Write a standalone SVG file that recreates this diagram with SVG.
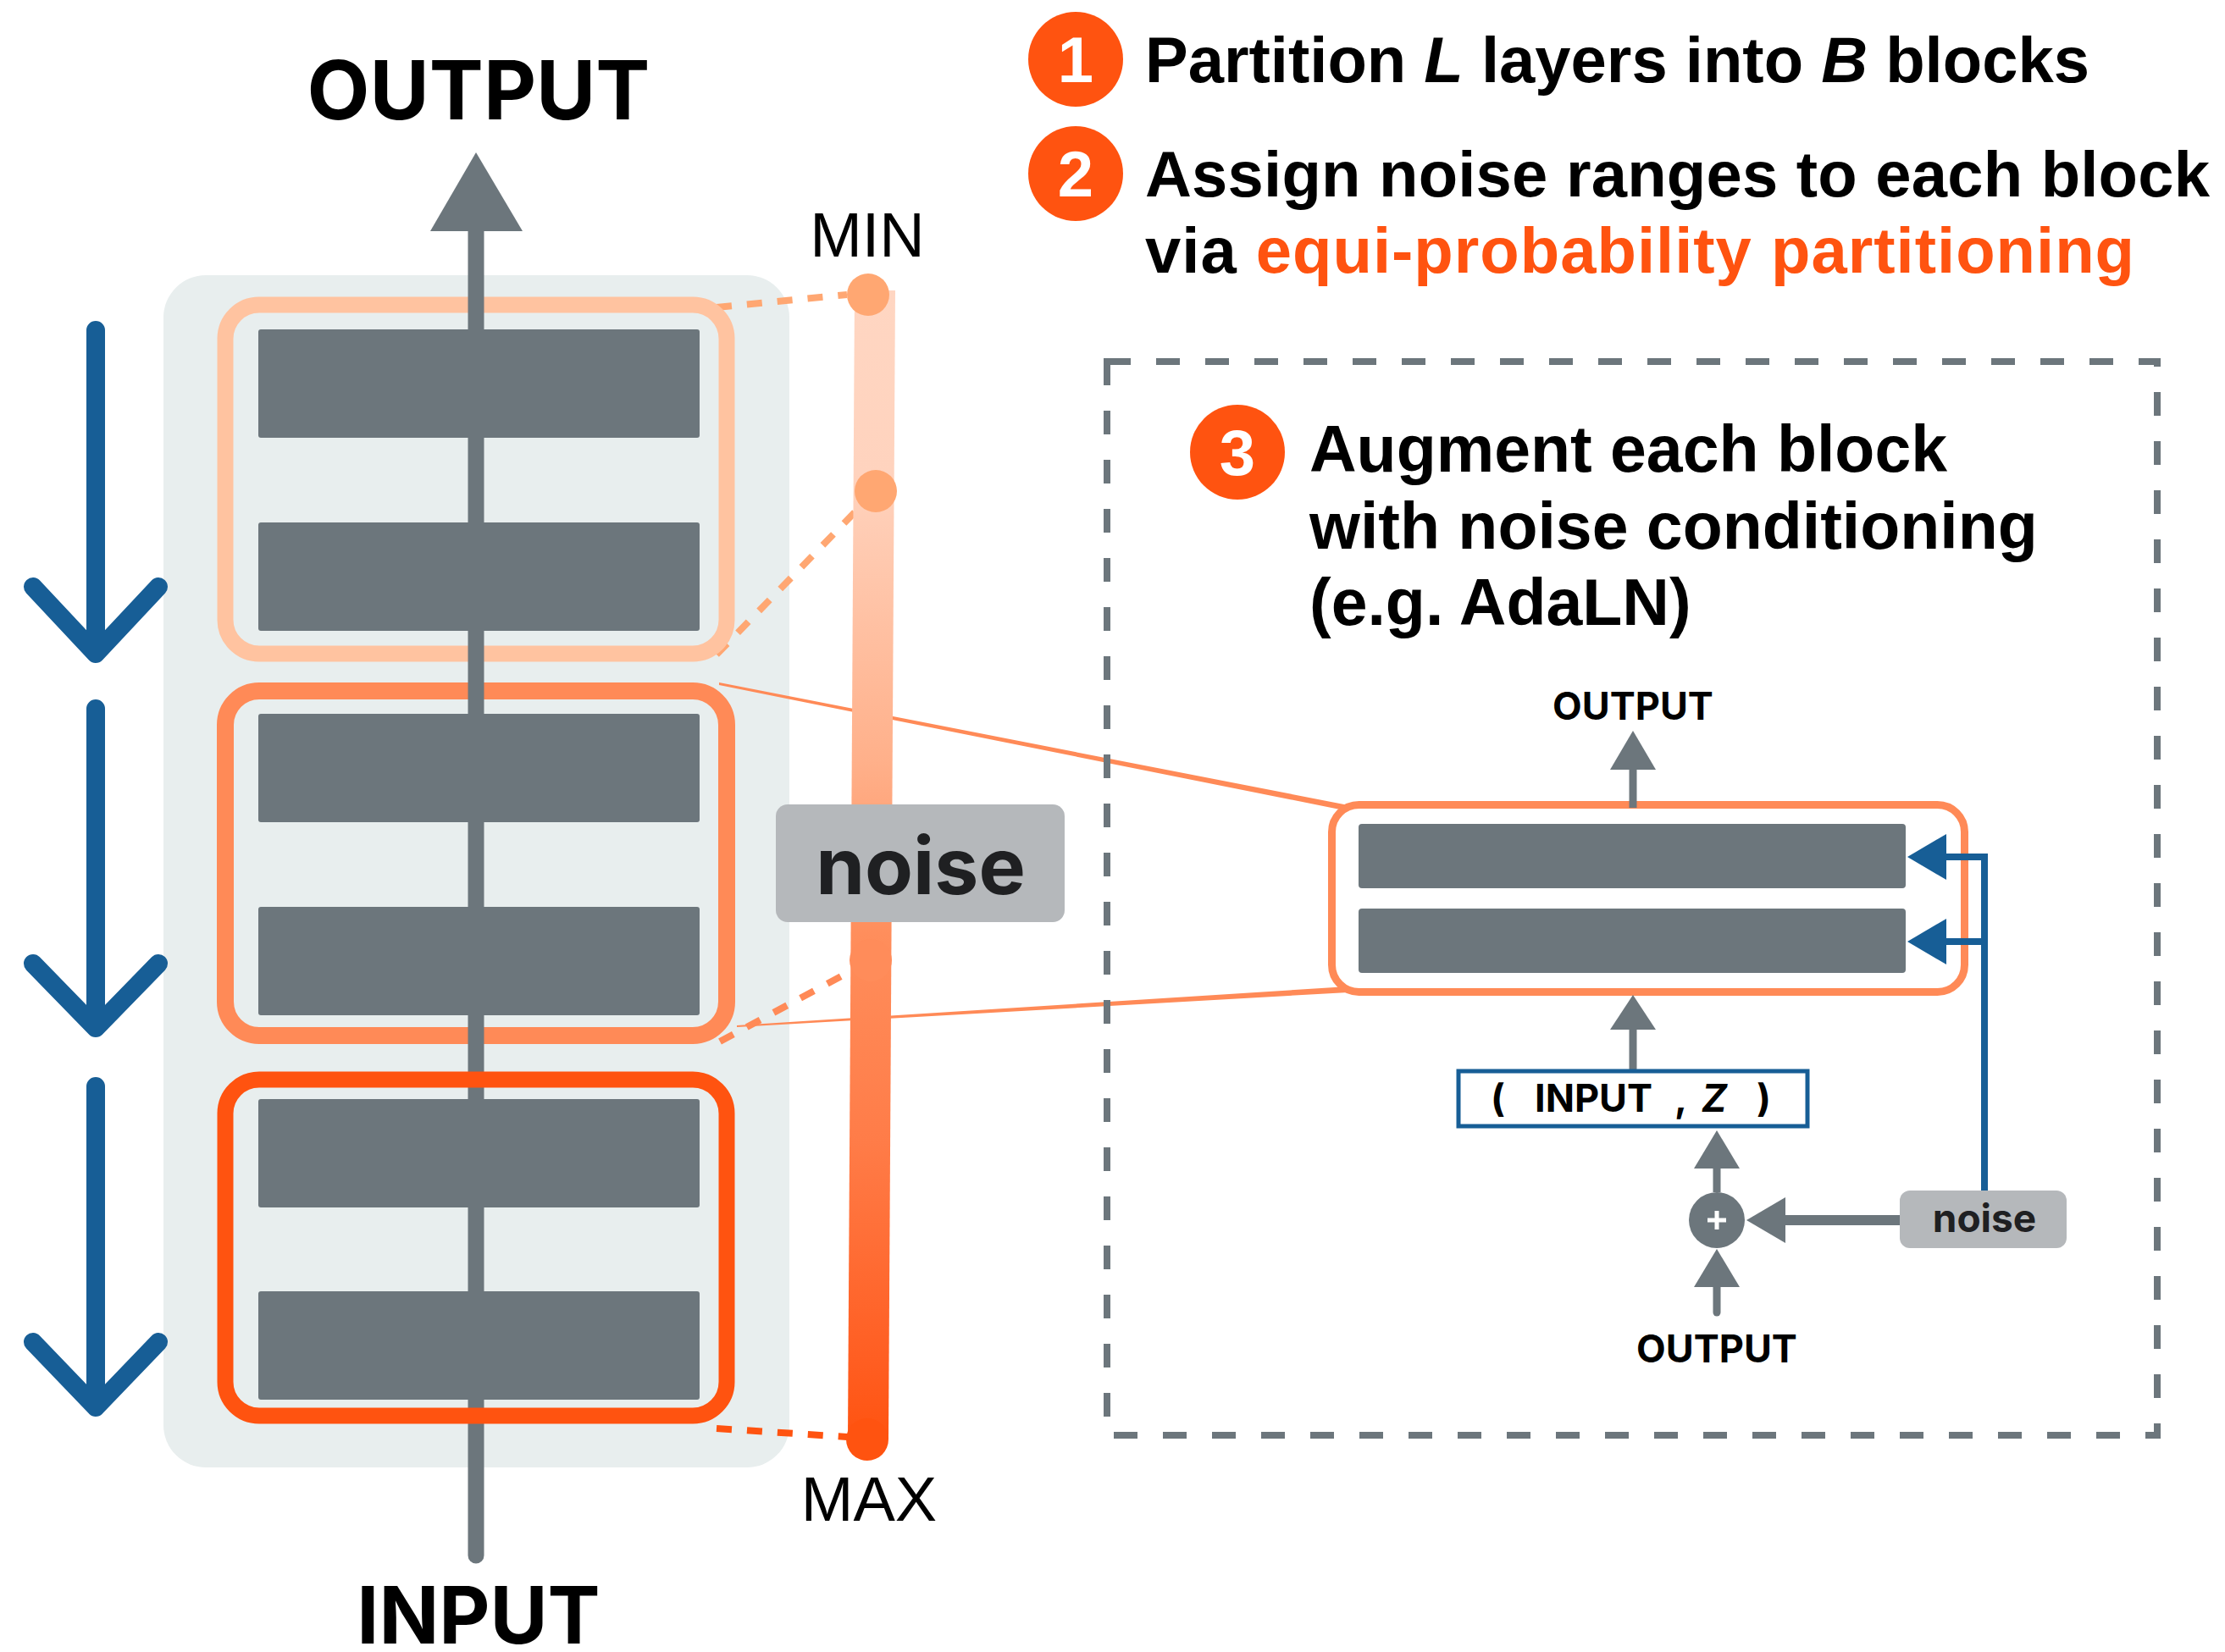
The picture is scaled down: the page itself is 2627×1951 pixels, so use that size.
<svg xmlns="http://www.w3.org/2000/svg" width="2627" height="1951" viewBox="0 0 2627 1951">
<defs>
<linearGradient id="barGrad" gradientUnits="userSpaceOnUse" x1="0" y1="343" x2="0" y2="1700">
<stop offset="0" stop-color="#FFD6C2"/>
<stop offset="0.16" stop-color="#FFD3BE"/>
<stop offset="0.41" stop-color="#FFB08A"/>
<stop offset="0.56" stop-color="#FF8E5C"/>
<stop offset="0.74" stop-color="#FF7C48"/>
<stop offset="0.93" stop-color="#FF5E22"/>
<stop offset="1" stop-color="#FF5310"/>
</linearGradient>
</defs>
<style>
.layer{fill:#6C767C}
.lab{font-family:Inter,"Liberation Sans",sans-serif;font-weight:700;fill:#000}
.cap{font-family:"Liberation Sans",Arial,sans-serif;font-weight:700;font-size:76px;fill:#000}
.cap3{font-family:"Liberation Sans",Arial,sans-serif;font-weight:700;font-size:77px;fill:#000}
.reg{font-family:"Liberation Sans",Arial,sans-serif;font-size:74px;fill:#000}
.num{font-family:"Liberation Sans",Arial,sans-serif;font-weight:700;font-size:76px;fill:#fff}
.blue{stroke:#175E96;stroke-width:22;stroke-linecap:round;stroke-linejoin:round;fill:none}
.dash{stroke-width:8;stroke-dasharray:18 18;fill:none}
.gl{stroke:#6C767C;stroke-width:9;fill:none}
.ga{fill:#6C767C}
.bl{stroke:#175E96;stroke-width:8;fill:none}
.ba{fill:#175E96}
</style>
<rect width="2627" height="1951" fill="#fff"/>

<g id="stack-bg"><rect x="193" y="325" width="739" height="1408" rx="50" fill="#E8EEEE"/></g>

<g id="connectors">
<polygon points="849,806 1592,951 1592,958 849,809" fill="#FF8A57"/>
<polygon points="870,1211 1592,1165 1592,1172 870,1213" fill="#FF8A57"/>
<line x1="846" y1="363" x2="1000" y2="348" class="dash" stroke="#FFA772"/>
<line x1="846" y1="773" x2="1016" y2="598" class="dash" stroke="#FFA772"/>
<line x1="850" y1="1230" x2="1008" y2="1145" class="dash" stroke="#FF8A57"/>
<line x1="846" y1="1687" x2="1000" y2="1697" class="dash" stroke="#FF5310"/>
</g>

<g id="block1">
<rect x="266" y="360" width="592" height="412" rx="40" fill="none" stroke="#FFC3A0" stroke-width="19"/>
<rect x="305" y="389" width="521" height="128" rx="3" class="layer"/>
<rect x="305" y="617" width="521" height="128" rx="3" class="layer"/>
</g>
<g id="block2">
<rect x="266" y="816" width="592" height="407" rx="40" fill="none" stroke="#FF8A57" stroke-width="20"/>
<rect x="305" y="843" width="521" height="128" rx="3" class="layer"/>
<rect x="305" y="1071" width="521" height="128" rx="3" class="layer"/>
</g>

<g id="main-line">
<line x1="562" y1="270" x2="562" y2="1837" stroke="#6C767C" stroke-width="19" stroke-linecap="round"/>
<polygon points="508,273 562,180 617,273" fill="#6C767C"/>
</g>

<g id="block3">
<rect x="266" y="1275" width="592" height="397" rx="40" fill="none" stroke="#FF5310" stroke-width="19"/>
<rect x="305" y="1298" width="521" height="128" rx="3" class="layer"/>
<rect x="305" y="1525" width="521" height="128" rx="3" class="layer"/>
</g>

<g id="noise-bar">
<polygon points="1009,343 1057,343 1049,1700 1001,1700" fill="url(#barGrad)"/>
<circle cx="1025" cy="348" r="25" fill="#FFA772"/>
<circle cx="1034" cy="580" r="25" fill="#FFA772"/>
<circle cx="1028" cy="1134" r="25" fill="#FF8C5A"/>
<circle cx="1024" cy="1700" r="25" fill="#FF5310"/>
</g>

<g id="noise-label">
<rect x="916" y="950" width="341" height="139" rx="14" fill="#B5B8BB"/>
<text x="1087" y="1056" text-anchor="middle" class="lab" font-size="93" style="fill:#1F2022">noise</text>
</g>

<g id="labels-left">
<text x="565" y="141" text-anchor="middle" class="lab" font-size="96">OUTPUT</text>
<text x="565" y="1941" text-anchor="middle" class="lab" font-size="93">INPUT</text>
<text x="1024" y="303" text-anchor="middle" class="reg">MIN</text>
<text x="1026" y="1796" text-anchor="middle" class="reg">MAX</text>
</g>

<g id="blue-arrows">
<path class="blue" d="M113,390 V772 M39,693 L113,772 L187,693"/>
<path class="blue" d="M113,837 V1214 M39,1138 L113,1214 L187,1138"/>
<path class="blue" d="M113,1283 V1662 M39,1585 L113,1662 L187,1585"/>
</g>

<g id="step1">
<circle cx="1270" cy="70" r="56" fill="#FF5310"/>
<text x="1270" y="97" text-anchor="middle" class="num">1</text>
<text x="1352" y="97" class="cap">Partition <tspan font-style="italic">L</tspan> layers into <tspan font-style="italic">B</tspan> blocks</text>
</g>
<g id="step2">
<circle cx="1270" cy="205" r="56" fill="#FF5310"/>
<text x="1270" y="232" text-anchor="middle" class="num">2</text>
<text x="1352" y="232" class="cap" textLength="1257" lengthAdjust="spacing">Assign noise ranges to each block</text>
<text x="1352" y="322" class="cap" textLength="1168" lengthAdjust="spacing">via <tspan fill="#FF5310">equi-probability partitioning</tspan></text>
</g>

<g id="detail-box">
<rect x="1307" y="427" width="1240" height="1268" fill="none" stroke="#6C767C" stroke-width="8" stroke-dasharray="28 30"/>
</g>
<g id="step3">
<circle cx="1461" cy="534" r="56" fill="#FF5310"/>
<text x="1461" y="561" text-anchor="middle" class="num">3</text>
<text x="1546" y="557" class="cap3">Augment each block</text>
<text x="1546" y="648" class="cap3">with noise conditioning</text>
<text x="1546" y="738" class="cap3">(e.g. AdaLN)</text>
</g>

<g id="detail-block">
<rect x="1572.5" y="950.5" width="747" height="221" rx="32" fill="#fff" stroke="#FF8A57" stroke-width="9"/>
<rect x="1604" y="973" width="646" height="76" rx="4" class="layer"/>
<rect x="1604" y="1073" width="646" height="76" rx="4" class="layer"/>
</g>

<g id="detail-connectors">
<line x1="1928" y1="954" x2="1928" y2="905" class="gl"/>
<polygon points="1901,909 1928,863 1955,909" class="ga"/>
<line x1="1928" y1="1262" x2="1928" y2="1212" class="gl" stroke-linecap="round"/>
<polygon points="1901,1216 1928,1175 1955,1216" class="ga"/>
<line x1="2027" y1="1408" x2="2027" y2="1376" class="gl"/>
<polygon points="2000,1380 2027,1335 2054,1380" class="ga"/>
<line x1="2027" y1="1550" x2="2027" y2="1516" class="gl" stroke-linecap="round"/>
<polygon points="2000,1520 2027,1475 2054,1520" class="ga"/>
<line x1="2243" y1="1441" x2="2104" y2="1441" stroke="#6C767C" stroke-width="12"/>
<polygon points="2062,1441 2108,1414 2108,1468" class="ga"/>
<polyline points="2298,1012 2343,1012 2343,1406" class="bl"/>
<line x1="2298" y1="1112" x2="2343" y2="1112" class="bl"/>
<polygon points="2252,1012 2298,985 2298,1039" class="ba"/>
<polygon points="2252,1112 2298,1085 2298,1139" class="ba"/>
</g>

<g id="detail-output-top"><text x="1928" y="850" text-anchor="middle" class="lab" font-size="45">OUTPUT</text></g>

<g id="input-z-box">
<rect x="1722" y="1265" width="412" height="65" fill="#fff" stroke="#175E96" stroke-width="5"/>
<text y="1313" class="lab" font-size="45"><tspan x="1760">(</tspan><tspan x="1812">INPUT</tspan><tspan x="1977">,</tspan><tspan x="2009" font-style="italic">Z</tspan><tspan x="2074">)</tspan></text>
</g>

<g id="plus-node">
<circle cx="2027" cy="1441" r="33" fill="#6C767C"/>
<path d="M2016,1441 H2038 M2027,1430 V1452" stroke="#fff" stroke-width="5"/>
</g>

<g id="noise-small">
<rect x="2243" y="1406" width="197" height="68" rx="12" fill="#B5B8BB"/>
<text x="2343" y="1455" text-anchor="middle" class="lab" font-size="46" style="fill:#1F2022">noise</text>
</g>

<g id="detail-output-bottom"><text x="2027" y="1609" text-anchor="middle" class="lab" font-size="45">OUTPUT</text></g>
</svg>
